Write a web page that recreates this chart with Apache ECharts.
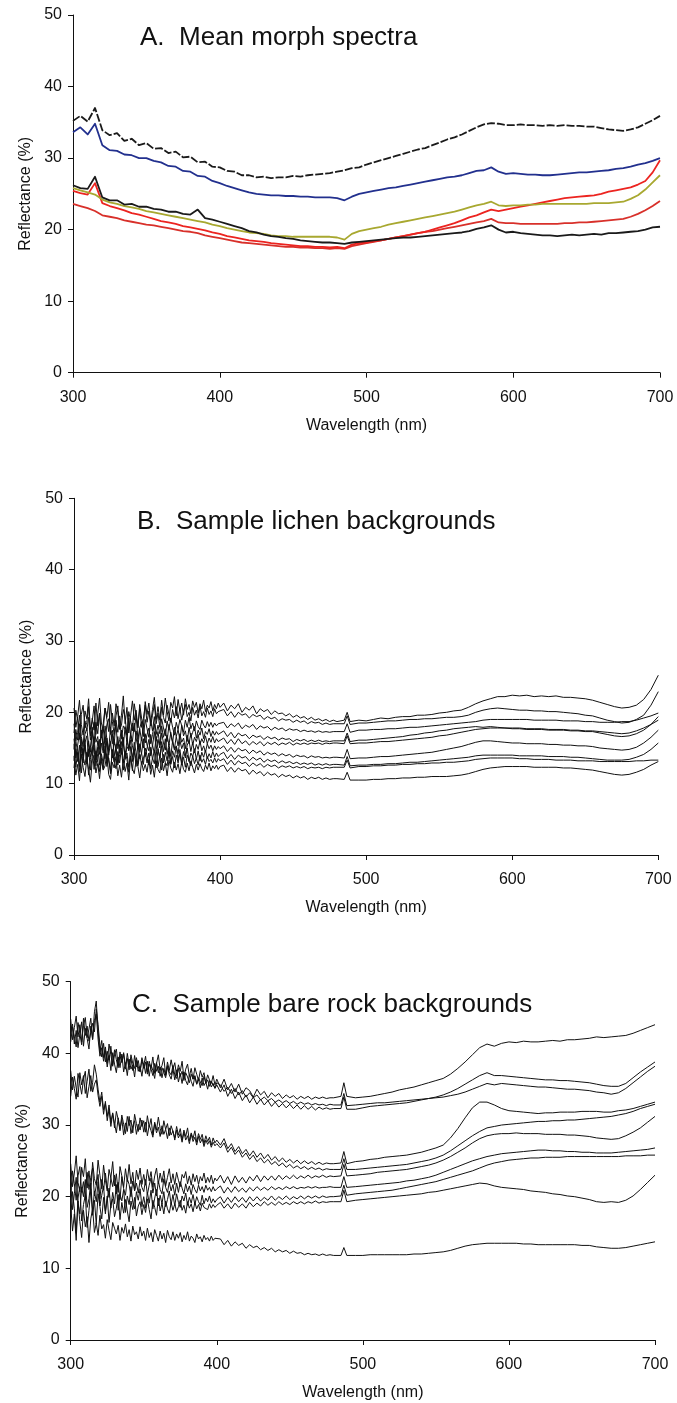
<!DOCTYPE html>
<html>
<head>
<meta charset="utf-8">
<script src="https://cdn.jsdelivr.net/npm/echarts@6/dist/echarts.min.js"></script>
<style>
  html, body { margin: 0; padding: 0; background: #ffffff; }
  #chart { width: 677px; height: 1403px; }
</style>
</head>
<body>
<div id="chart"></div>
<script>
// ---------- Panel A: mean morph spectra (5 nm steps) ----------
const wavelengthsA = [300,305,310,315,320,325,330,335,340,345,350,355,360,365,370,375,380,385,390,395,400,
  405,410,415,420,425,430,435,440,445,450,455,460,465,470,475,480,485,490,495,500,
  505,510,515,520,525,530,535,540,545,550,555,560,565,570,575,580,585,590,595,600,
  605,610,615,620,625,630,635,640,645,650,655,660,665,670,675,680,685,690,695,700];

const morphBlackUpper = [35.2,35.9,35.1,37.0,33.9,33.2,33.5,32.4,32.7,31.8,32.1,31.3,31.4,30.7,30.9,30.1,30.2,29.4,29.5,28.8,28.7,
  28.2,28.1,27.6,27.6,27.3,27.4,27.2,27.3,27.3,27.5,27.4,27.6,27.7,27.8,27.9,28.1,28.3,28.6,28.7,29.1,
  29.4,29.7,30.0,30.3,30.6,30.9,31.2,31.4,31.8,32.2,32.6,32.9,33.3,33.8,34.3,34.7,34.9,34.8,34.6,34.6,
  34.7,34.6,34.6,34.5,34.6,34.5,34.6,34.5,34.5,34.4,34.4,34.2,34.0,33.9,33.8,34.0,34.3,34.8,35.3,35.9];
const morphBlue = [33.6,34.3,33.3,34.8,31.8,31.1,31.0,30.5,30.4,30.0,30.0,29.6,29.4,28.9,28.8,28.2,28.1,27.5,27.4,26.8,26.5,
  26.1,25.8,25.5,25.2,25.0,24.9,24.8,24.8,24.7,24.7,24.6,24.6,24.5,24.5,24.5,24.4,24.1,24.6,25.0,25.2,
  25.4,25.6,25.8,25.9,26.1,26.3,26.5,26.7,26.9,27.1,27.3,27.4,27.6,27.9,28.2,28.3,28.7,28.1,27.8,27.9,
  27.8,27.7,27.7,27.6,27.6,27.7,27.8,27.9,28.0,28.0,28.1,28.2,28.3,28.5,28.6,28.8,29.1,29.3,29.6,30.0];
const morphBlackLower = [26.2,25.8,25.7,27.4,24.5,24.1,24.1,23.5,23.6,23.2,23.2,22.9,22.8,22.5,22.5,22.2,22.1,22.8,21.6,21.4,21.1,
  20.8,20.5,20.2,19.8,19.6,19.3,19.1,19.0,18.8,18.7,18.5,18.4,18.3,18.2,18.2,18.1,18.0,18.2,18.3,18.4,
  18.5,18.6,18.7,18.8,18.9,18.9,19.0,19.1,19.2,19.3,19.4,19.5,19.6,19.8,20.1,20.3,20.6,20.0,19.6,19.7,
  19.5,19.4,19.3,19.2,19.2,19.1,19.2,19.3,19.2,19.3,19.4,19.3,19.5,19.5,19.6,19.7,19.8,20.0,20.3,20.4];
const morphOlive = [25.8,25.5,25.2,24.9,24.2,23.8,23.6,23.3,23.1,22.9,22.6,22.4,22.2,22.0,21.8,21.6,21.4,21.2,21.0,20.7,20.5,
  20.2,20.0,19.8,19.6,19.5,19.4,19.2,19.1,19.1,19.0,19.0,19.0,19.0,19.0,19.0,18.9,18.6,19.4,19.8,20.0,
  20.2,20.4,20.7,20.9,21.1,21.3,21.5,21.7,21.9,22.1,22.3,22.5,22.8,23.1,23.4,23.6,23.9,23.4,23.3,23.4,
  23.4,23.5,23.5,23.6,23.6,23.6,23.6,23.6,23.6,23.6,23.7,23.7,23.7,23.8,23.9,24.3,24.8,25.6,26.6,27.6];
const morphRedUpper = [25.4,25.1,24.9,26.5,23.7,23.3,23.0,22.7,22.3,22.1,21.8,21.5,21.2,21.0,20.8,20.5,20.3,20.1,19.9,19.6,19.4,
  19.1,18.9,18.7,18.5,18.4,18.3,18.1,18.0,17.9,17.8,17.7,17.7,17.6,17.6,17.5,17.6,17.4,17.9,18.1,18.2,
  18.4,18.5,18.7,18.9,19.1,19.3,19.5,19.7,20.0,20.3,20.6,20.9,21.3,21.7,22.0,22.4,22.8,22.6,22.8,23.0,
  23.2,23.4,23.6,23.8,24.0,24.2,24.4,24.5,24.6,24.7,24.8,25.0,25.3,25.5,25.7,25.9,26.3,26.8,28.0,29.7];
const morphRedLower = [23.6,23.3,23.0,22.6,22.0,21.8,21.6,21.3,21.1,20.9,20.7,20.6,20.4,20.2,20.0,19.8,19.7,19.5,19.2,19.0,18.8,
  18.6,18.4,18.2,18.1,18.0,17.9,17.8,17.7,17.6,17.6,17.5,17.5,17.4,17.4,17.3,17.4,17.3,17.7,17.9,18.1,
  18.3,18.5,18.7,18.9,19.1,19.3,19.5,19.7,19.8,20.0,20.2,20.4,20.6,20.8,21.0,21.2,21.5,21.0,20.9,20.9,
  20.8,20.8,20.8,20.8,20.8,20.8,20.9,20.9,21.0,21.0,21.1,21.2,21.3,21.4,21.5,21.8,22.2,22.7,23.3,24.0];

// ---------- Panels B and C: background samples (finer steps across the noisy UV range) ----------
const wavelengthsBC = [300,301.25,302.5,303.75,305,306.25,307.5,308.75,310,311.25,312.5,313.75,315,316.25,317.5,318.75,
  320,321.25,322.5,323.75,325,326.25,327.5,328.75,330,331.25,332.5,333.75,335,336.25,337.5,338.75,
  340,341.25,342.5,343.75,345,346.25,347.5,348.75,350,
  351.25,352.5,353.75,355,356.25,357.5,358.75,360,361.25,362.5,363.75,365,366.25,367.5,368.75,370,
  371.25,372.5,373.75,375,376.25,377.5,378.75,380,381.25,382.5,383.75,385,386.25,387.5,388.75,390,
  391.25,392.5,393.75,395,396.25,397.5,398.75,400,
  402.5,405,407.5,410,412.5,415,417.5,420,422.5,425,427.5,430,432.5,435,437.5,440,
  442.5,445,447.5,450,452.5,455,457.5,460,462.5,465,467.5,470,472.5,475,477.5,480,
  485,487,489,
  495,500,505,510,515,520,525,530,535,540,545,550,555,560,565,570,575,580,585,590,595,600,
  605,610,615,620,625,630,635,640,645,650,655,660,665,670,675,680,685,690,695,700];

// Lichen backgrounds
const lichenA = [20.6,17.9,19.4,21.7,18.3,16.8,20.2,19.1,21.9,17.6,18.8,20.9,16.9,19.8,22.0,18.5,17.4,20.6,19.3,21.4,17.2,19.9,18.1,21.2,20.0,17.7,19.6,22.3,18.4,20.7,17.1,19.5,21.6,18.9,20.3,17.8,21.1,19.2,18.0,21.5,19.7,
  21.3,18.6,20.4,22.1,19.0,20.8,18.9,21.7,19.6,22.0,20.1,18.8,21.4,20.6,22.2,19.5,
  21.8,20.2,21.3,19.6,21.9,20.4,21.1,19.8,21.6,20.7,21.4,19.9,21.2,20.5,21.7,20.1,21.0,20.6,21.5,20.2,21.1,20.5,21.3,20.7,
  21.3,20.2,21.0,20.5,21.2,20.0,20.7,20.3,20.9,19.8,20.5,20.1,20.4,19.7,20.2,19.8,19.9,19.5,19.8,19.3,19.6,19.2,19.4,19.0,19.3,18.9,19.1,18.8,19.0,18.7,18.9,18.7,
  18.9,20.0,18.7,
  18.9,18.8,19.0,19.2,19.1,19.3,19.4,19.4,19.6,19.6,19.7,19.9,20.0,20.2,20.3,20.7,21.2,21.6,21.9,22.2,22.2,22.4,22.3,22.4,22.2,22.3,22.2,22.3,22.1,22.1,22.0,21.9,21.7,21.4,21.1,20.8,20.6,20.7,21.0,21.8,23.2,25.2];
const lichenB = [17.1,20.3,18.9,16.2,19.7,21.0,17.8,18.6,20.8,16.7,19.2,17.5,21.3,18.1,19.9,16.5,18.4,20.6,19.0,17.3,21.1,18.7,16.9,19.5,20.9,17.6,18.2,20.4,19.3,16.8,20.1,18.8,17.4,21.2,19.6,18.0,20.5,17.9,19.1,21.0,18.6,
  20.2,18.1,19.6,21.1,18.4,19.9,17.9,20.7,19.3,18.5,21.0,19.7,18.6,20.4,19.2,20.8,
  19.1,20.6,18.9,20.2,21.1,19.4,20.0,18.8,20.7,19.6,20.3,19.2,20.9,19.5,20.1,19.3,20.6,19.7,20.2,19.4,20.5,19.8,20.1,19.9,
  20.4,19.5,20.1,19.3,20.0,19.6,19.8,19.2,19.7,19.4,19.6,19.0,19.4,19.1,19.3,18.8,19.1,18.9,19.0,18.6,18.9,18.6,18.8,18.4,18.7,18.5,18.6,18.3,18.5,18.3,18.4,18.4,
  18.4,19.5,18.3,
  18.5,18.5,18.6,18.7,18.8,18.8,18.9,19.0,19.0,19.1,19.1,19.2,19.3,19.3,19.4,19.6,20.0,20.3,20.5,20.6,20.5,20.4,20.3,20.3,20.2,20.2,20.1,20.1,20.0,19.9,19.8,19.6,19.5,19.2,18.9,18.7,18.5,18.6,19.0,19.6,21.0,22.9];
const lichenC = [18.4,15.9,17.2,19.6,16.6,15.2,18.8,17.4,19.3,16.1,17.9,15.5,18.6,17.0,19.9,16.4,17.7,15.8,18.3,19.1,16.9,17.5,15.4,18.9,17.2,19.5,16.3,18.1,17.6,15.9,19.2,16.8,18.5,17.3,19.7,16.2,17.8,18.7,16.6,19.0,17.7,
  16.5,18.9,17.4,19.4,16.9,18.2,17.0,19.1,17.8,16.7,18.8,17.5,19.2,17.9,16.8,18.6,
  17.6,19.0,18.1,17.2,18.9,17.9,19.3,17.7,18.5,17.4,18.8,18.0,17.6,18.9,18.2,17.8,18.7,18.0,18.6,17.9,18.5,18.1,18.4,18.2,
  18.6,17.8,18.4,18.0,18.5,17.7,18.2,17.9,18.3,17.6,18.1,17.8,18.0,17.5,17.9,17.6,17.8,17.4,17.7,17.5,17.6,17.3,17.5,17.3,17.4,17.2,17.4,17.2,17.3,17.2,17.3,17.3,
  17.3,18.4,17.2,
  17.5,17.5,17.6,17.6,17.7,17.7,17.8,17.9,17.9,18.0,18.1,18.2,18.3,18.4,18.5,18.6,18.7,18.9,19.0,19.0,19.0,19.0,19.0,19.0,18.9,18.9,18.9,18.9,18.8,18.8,18.8,18.7,18.7,18.6,18.6,18.6,18.7,18.7,18.9,19.2,19.5,19.9];
const lichenD = [14.8,17.6,16.1,18.4,15.2,13.9,16.9,17.8,15.5,14.4,17.2,18.6,15.8,16.6,14.1,17.4,15.0,18.1,16.3,14.7,17.9,15.6,16.8,18.3,14.9,16.2,17.5,15.3,18.0,16.7,14.6,17.1,15.9,18.5,16.4,15.1,17.7,16.0,18.2,15.7,16.9,
  17.8,15.6,16.9,18.4,16.0,17.3,15.4,18.1,16.5,17.7,15.9,18.3,16.8,15.7,17.9,16.6,
  17.6,16.1,18.2,16.7,17.4,15.9,17.9,16.5,17.2,18.0,16.4,17.5,16.8,17.8,16.3,17.3,16.9,17.7,16.6,17.4,16.8,17.3,16.9,17.1,
  17.4,16.6,17.2,16.4,17.1,16.7,16.9,16.3,16.8,16.5,16.7,16.2,16.6,16.3,16.5,16.1,16.4,16.2,16.3,15.9,16.2,16.0,16.2,15.9,16.1,15.9,16.1,15.9,16.0,15.9,16.0,16.0,
  16.0,17.1,15.9,
  16.1,16.1,16.2,16.3,16.4,16.5,16.6,16.8,16.9,17.1,17.2,17.4,17.5,17.7,17.8,17.9,18.0,17.9,18.0,17.9,17.8,17.7,17.7,17.6,17.6,17.6,17.5,17.5,17.5,17.4,17.4,17.3,17.3,17.1,16.9,16.7,16.6,16.7,17.0,17.5,18.3,19.4];
const lichenE = [16.3,13.6,15.4,17.1,14.2,12.9,15.8,16.7,13.8,15.1,17.3,14.5,13.3,16.0,14.8,17.5,15.2,13.5,16.4,14.0,15.7,17.0,13.9,15.0,16.6,14.3,17.2,15.5,13.7,16.1,14.9,16.8,15.3,14.1,17.4,15.6,14.4,16.5,15.0,17.0,15.4,
  14.6,16.9,15.2,17.3,14.8,16.2,15.0,17.1,15.7,14.7,16.8,15.4,17.2,15.9,14.9,16.6,
  15.3,17.0,15.8,16.4,14.9,16.8,15.6,17.1,15.4,16.5,15.9,16.9,15.5,16.3,15.7,16.7,15.6,16.4,15.8,16.6,15.7,16.3,15.9,16.1,
  16.4,15.6,16.2,15.5,16.3,15.6,16.0,15.4,15.9,15.5,15.9,15.3,15.8,15.5,15.8,15.4,15.7,15.5,15.8,15.4,15.7,15.5,15.7,15.5,15.7,15.6,15.7,15.5,15.7,15.6,15.7,15.7,
  15.6,16.7,15.6,
  15.7,15.7,15.8,15.9,15.9,16.0,16.1,16.2,16.3,16.4,16.5,16.7,16.8,17.0,17.2,17.4,17.6,17.7,17.8,17.8,17.8,17.8,17.8,17.7,17.7,17.7,17.6,17.6,17.6,17.5,17.5,17.4,17.4,17.3,17.2,17.1,17.0,17.1,17.4,17.8,18.3,18.9];
const lichenF = [13.2,15.9,14.6,12.4,16.3,14.0,15.4,12.8,16.0,13.7,14.9,16.6,13.3,15.1,12.6,15.7,14.3,16.4,13.0,14.8,15.9,13.6,16.2,14.5,12.9,15.5,14.1,16.5,13.4,15.2,14.7,16.1,13.1,15.8,14.4,12.7,15.6,14.2,16.3,13.8,15.0,
  16.2,13.9,15.4,14.3,16.6,14.8,13.6,15.9,14.5,16.3,14.1,15.6,13.8,16.0,14.7,15.3,
  14.2,16.1,14.9,15.7,13.9,15.4,16.0,14.5,15.8,14.3,15.5,14.8,16.0,14.6,15.3,14.4,15.6,14.9,15.4,14.6,15.3,14.8,15.2,14.9,
  15.3,14.5,15.1,14.4,15.0,14.6,14.8,14.2,14.7,14.3,14.6,14.0,14.4,14.1,14.3,13.9,14.2,13.9,14.1,13.7,14.0,13.8,13.9,13.6,13.9,13.7,13.8,13.6,13.7,13.6,13.7,13.7,
  13.6,14.8,13.5,
  13.6,13.6,13.7,13.8,13.8,13.9,14.0,14.1,14.2,14.3,14.4,14.6,14.8,15.0,15.2,15.5,15.8,16.0,16.0,15.9,15.8,15.7,15.7,15.6,15.6,15.6,15.5,15.5,15.4,15.4,15.3,15.3,15.2,15.0,14.9,14.8,14.7,14.8,15.1,15.7,16.5,17.5];
const lichenG = [15.6,12.3,14.4,11.7,15.1,13.6,16.0,12.8,14.9,11.9,13.8,15.4,12.5,14.2,16.2,13.1,12.0,14.7,15.8,13.3,11.8,14.5,13.0,15.5,12.6,14.1,15.9,12.9,14.6,13.4,11.6,15.2,13.7,14.8,12.4,15.7,13.5,14.3,12.7,15.0,13.9,
  12.6,15.1,13.4,14.7,12.2,14.9,13.6,15.3,12.9,14.4,13.2,15.0,12.8,14.6,13.7,15.2,
  13.3,14.8,12.9,14.5,13.6,15.0,13.1,14.3,13.8,14.9,13.4,14.6,13.2,14.4,13.7,14.7,13.5,14.2,13.6,14.5,13.7,14.3,13.8,14.1,
  14.4,13.5,14.1,13.4,14.0,13.6,13.8,13.2,13.7,13.3,13.6,13.0,13.4,13.1,13.3,12.9,13.2,12.9,13.1,12.8,13.0,12.7,12.9,12.7,12.9,12.6,12.8,12.6,12.8,12.6,12.7,12.7,
  12.6,13.8,12.5,
  12.6,12.6,12.7,12.7,12.8,12.8,12.9,13.0,13.0,13.1,13.2,13.3,13.4,13.5,13.6,13.7,13.9,14.0,14.0,14.0,14.0,14.0,13.9,13.9,13.9,13.9,13.8,13.8,13.8,13.7,13.7,13.6,13.5,13.4,13.3,13.3,13.3,13.4,13.7,14.1,14.8,15.7];
const lichenH = [12.2,14.9,13.1,15.4,11.5,13.8,12.6,14.4,11.2,13.4,15.1,12.0,14.6,13.0,11.7,14.2,12.8,15.3,12.4,13.6,11.4,14.8,13.2,12.1,14.5,12.9,15.0,11.9,13.7,14.3,12.3,13.9,11.8,14.7,13.3,12.5,14.1,12.7,13.5,14.4,12.9,
  14.3,12.1,13.6,12.8,14.8,12.4,13.9,11.9,14.1,13.0,12.5,14.5,12.7,13.8,12.2,14.0,
  12.9,14.2,12.6,13.7,12.3,14.0,13.2,12.5,13.9,12.8,13.6,12.6,14.0,13.0,13.5,12.7,13.8,13.1,13.4,12.9,13.6,13.0,13.5,13.2,
  13.5,12.7,13.3,12.6,13.2,12.8,13.0,12.4,12.9,12.5,12.8,12.3,12.7,12.4,12.6,12.2,12.5,12.3,12.5,12.2,12.4,12.2,12.4,12.1,12.3,12.2,12.3,12.1,12.3,12.2,12.3,12.3,
  12.3,13.3,12.2,
  12.4,12.4,12.5,12.5,12.6,12.6,12.7,12.7,12.8,12.8,12.9,12.9,13.0,13.0,13.1,13.2,13.4,13.5,13.6,13.6,13.6,13.6,13.5,13.5,13.4,13.4,13.4,13.3,13.3,13.3,13.2,13.2,13.2,13.1,13.1,13.1,13.1,13.1,13.2,13.2,13.3,13.3];
const lichenI = [13.9,11.2,12.7,10.4,14.1,12.3,11.0,13.5,12.0,10.2,13.2,14.0,11.5,12.8,10.7,13.6,11.9,12.5,14.2,11.3,10.6,13.0,12.2,13.8,11.1,12.6,10.9,13.4,11.7,12.9,10.5,13.7,12.1,11.4,13.3,12.4,10.8,13.1,11.8,12.7,11.6,
  13.4,11.3,12.6,10.9,13.2,12.0,11.5,13.6,11.8,12.9,11.1,13.3,12.2,11.6,13.0,11.9,
  12.8,11.4,13.1,12.0,11.6,12.9,11.8,13.2,12.3,11.5,12.7,11.9,12.8,12.1,11.7,12.6,12.0,12.9,11.8,12.5,12.1,12.6,12.0,12.4,
  12.6,11.7,12.3,11.6,12.2,11.8,12.0,11.3,11.9,11.4,11.7,11.1,11.6,11.2,11.4,10.9,11.3,11.0,11.2,10.8,11.1,10.8,11.0,10.6,10.9,10.7,10.9,10.6,10.8,10.6,10.7,10.7,
  10.6,11.6,10.5,
  10.5,10.5,10.6,10.6,10.7,10.7,10.8,10.8,10.9,10.9,11.0,11.0,11.0,11.1,11.2,11.4,11.7,12.0,12.2,12.3,12.4,12.4,12.4,12.4,12.3,12.3,12.3,12.3,12.2,12.2,12.1,12.0,11.9,11.7,11.5,11.3,11.2,11.3,11.6,12.0,12.6,13.1];

// Bare rock backgrounds
const rockA = [44.8,41.9,43.6,45.2,42.3,44.0,41.6,43.9,45.0,42.2,43.4,44.9,42.0,45.8,47.3,43.1,40.2,41.8,39.4,40.9,38.6,41.3,39.8,38.2,40.5,39.1,38.0,40.2,38.7,39.9,37.8,40.0,38.4,39.3,37.6,39.7,38.1,39.0,37.5,39.4,38.3,
  39.6,37.4,38.9,37.9,39.5,37.2,38.6,39.8,37.7,38.3,39.4,37.0,38.8,37.6,39.1,37.8,
  38.7,36.9,38.4,37.5,38.9,36.6,37.8,38.5,36.8,37.9,36.4,38.0,37.1,36.2,37.6,36.7,37.3,35.9,37.0,36.3,35.8,36.9,35.6,36.4,
  35.2,36.4,34.9,35.8,34.6,35.7,34.3,35.2,34.8,33.9,35.0,34.2,34.7,33.8,34.5,34.0,34.4,33.7,34.2,33.8,34.1,33.6,34.0,33.7,34.0,33.6,33.9,33.7,33.9,33.7,33.8,33.8,
  34.0,35.9,34.0,
  33.8,33.9,34.0,34.2,34.4,34.6,34.9,35.1,35.3,35.6,35.9,36.2,36.5,37.1,37.9,38.8,39.8,40.8,41.3,41.0,41.4,41.6,41.5,41.7,41.6,41.6,41.7,41.8,41.7,41.9,41.9,42.0,42.1,42.3,42.2,42.3,42.4,42.5,42.8,43.2,43.6,44.0];
const rockB = [42.9,44.1,41.3,43.2,40.8,42.7,44.4,41.0,43.5,42.1,40.6,43.8,41.9,44.6,45.5,42.0,39.6,40.8,38.9,40.4,38.1,39.7,37.6,40.1,38.5,37.3,39.5,38.0,39.9,37.4,38.7,36.9,39.2,37.8,38.4,36.7,39.0,37.5,38.2,36.8,38.6,
  37.2,38.9,36.8,38.4,37.6,36.5,38.7,37.3,38.1,36.6,37.9,36.9,38.3,37.0,36.4,37.8,
  36.3,37.7,36.0,37.2,35.8,37.4,36.2,35.6,37.0,36.1,35.4,36.8,35.7,36.4,35.2,36.6,35.5,36.0,35.0,36.2,35.3,35.8,35.1,35.6,
  34.6,35.6,34.0,35.0,33.7,34.6,33.4,34.2,33.1,33.9,32.9,33.6,32.8,33.4,32.6,33.2,32.5,33.0,32.4,32.9,32.3,32.8,32.2,32.7,32.2,32.6,32.1,32.5,32.2,32.4,32.2,32.3,
  32.3,33.9,32.2,
  32.2,32.4,32.6,32.7,32.8,32.9,33.0,33.1,33.3,33.5,33.7,33.9,34.2,34.6,35.1,35.7,36.3,36.9,37.3,36.9,36.9,36.8,36.7,36.6,36.5,36.4,36.3,36.3,36.2,36.2,36.1,36.0,35.9,35.7,35.5,35.4,35.4,35.8,36.6,37.4,38.1,38.8];
const rockC = [41.6,43.7,42.4,40.9,44.3,42.8,41.2,44.9,42.5,43.8,41.7,42.9,44.2,43.0,46.2,44.0,41.1,39.5,41.4,38.8,40.3,39.1,41.0,38.4,39.8,40.6,38.3,39.6,38.9,40.1,38.2,39.3,37.7,39.8,38.6,37.9,39.4,38.1,37.4,39.1,37.9,
  38.8,37.1,38.5,37.8,36.9,38.6,37.5,38.2,36.8,38.0,37.3,36.6,38.1,37.4,37.0,38.3,
  37.0,36.5,37.9,36.8,37.5,36.2,37.3,36.7,35.9,37.1,36.4,36.9,35.7,36.6,36.0,35.5,36.8,35.8,36.3,35.4,36.1,35.6,35.2,35.9,
  35.6,34.7,35.3,34.4,35.1,34.2,34.8,33.9,34.5,33.8,34.2,33.5,33.9,33.4,33.7,33.2,33.5,33.1,33.4,33.0,33.3,32.9,33.2,32.9,33.1,32.8,33.0,32.8,32.9,32.7,32.9,32.8,
  32.8,34.4,32.7,
  32.8,32.9,33.0,33.1,33.1,33.2,33.3,33.4,33.5,33.6,33.7,33.8,33.9,34.1,34.3,34.6,35.0,35.4,35.8,35.6,35.8,35.7,35.6,35.5,35.4,35.3,35.3,35.2,35.1,35.0,35.0,34.9,34.8,34.6,34.5,34.3,34.5,35.1,35.9,36.7,37.5,38.2];
const rockD = [37.6,34.9,36.8,35.2,33.9,37.3,35.6,36.9,34.4,36.1,37.8,34.7,35.9,38.4,37.1,35.0,33.2,34.6,32.1,33.0,31.2,32.8,30.4,31.7,29.6,31.9,30.8,29.2,31.4,30.1,28.8,31.2,29.9,30.7,28.9,31.5,30.2,29.1,31.0,29.8,30.6,
  29.0,31.3,29.7,30.9,28.6,30.4,29.3,31.1,29.5,28.7,30.6,29.4,30.2,28.5,29.9,29.1,
  28.2,29.8,28.6,29.5,27.9,29.3,28.4,29.6,27.8,28.9,28.1,29.2,27.6,28.8,28.0,28.7,27.4,28.5,27.7,28.3,27.2,28.2,27.5,27.9,
  27.2,28.1,26.7,27.4,26.3,27.0,26.0,26.6,25.7,26.4,25.5,26.1,25.3,25.9,25.1,25.6,24.9,25.4,24.8,25.2,24.7,25.1,24.6,25.0,24.6,24.9,24.5,24.8,24.5,24.7,24.6,24.6,
  24.7,26.3,24.6,
  24.9,25.0,25.2,25.3,25.5,25.6,25.7,25.8,26.0,26.2,26.5,26.8,27.2,28.2,29.5,31.0,32.4,33.2,33.2,32.8,32.3,32.0,31.9,31.8,31.7,31.6,31.7,31.7,31.8,31.8,31.8,31.9,31.9,31.9,31.8,31.8,32.0,32.1,32.3,32.6,32.9,33.2];
const rockE = [34.0,36.7,35.1,33.6,37.2,35.8,34.3,36.4,37.5,33.8,35.4,36.9,34.6,35.7,36.3,34.1,32.6,34.0,31.5,33.3,30.6,32.2,29.8,31.6,30.2,28.9,31.0,29.4,30.8,28.6,30.3,29.1,31.2,28.8,29.9,30.6,28.7,30.1,29.3,30.7,29.0,
  30.4,28.5,30.0,29.2,28.3,30.2,28.9,29.7,28.4,29.9,28.7,29.4,28.1,29.6,28.6,29.2,
  27.9,29.3,28.2,28.8,27.6,29.0,27.9,28.5,27.4,28.7,27.7,28.3,27.2,28.4,27.5,28.1,27.0,27.9,27.3,27.8,26.9,27.6,27.1,27.4,
  26.8,27.5,26.2,26.9,25.9,26.5,25.5,26.1,25.2,25.8,24.9,25.4,24.7,25.2,24.5,24.9,24.3,24.7,24.1,24.5,24.0,24.3,23.9,24.2,23.8,24.1,23.8,24.0,23.7,23.9,23.8,23.8,
  23.8,25.3,23.8,
  23.8,23.9,24.0,24.1,24.2,24.3,24.4,24.5,24.7,24.9,25.1,25.4,25.8,26.4,27.1,27.8,28.5,29.1,29.6,29.8,30.0,30.1,30.2,30.3,30.4,30.5,30.5,30.6,30.6,30.7,30.7,30.8,30.9,31.0,31.1,31.2,31.4,31.6,31.9,32.3,32.6,32.9];
const rockF = [24.6,21.4,23.3,25.7,22.0,20.7,24.1,22.8,25.3,21.2,23.6,20.9,24.8,22.5,21.6,25.1,23.0,21.1,24.4,22.3,20.8,23.8,22.6,24.9,21.5,23.2,20.6,24.2,22.9,21.3,23.9,22.1,24.5,21.8,23.4,20.9,23.7,22.4,24.0,21.7,23.1,
  21.6,23.8,22.2,23.5,21.3,22.9,24.0,21.8,23.3,22.0,23.6,21.5,22.7,23.9,21.9,23.2,
  21.7,23.4,22.3,21.4,23.1,22.6,23.5,21.8,22.9,21.6,23.2,22.1,23.0,21.7,22.8,22.2,23.3,21.9,22.7,22.0,23.0,21.8,22.6,22.2,
  23.0,21.9,22.8,21.7,22.9,22.0,22.7,21.9,22.8,22.2,23.0,22.1,22.9,22.3,22.9,22.3,23.0,22.4,22.9,22.5,23.0,22.5,22.9,22.6,23.0,22.6,22.9,22.7,23.0,22.7,22.9,22.8,
  22.9,24.5,22.9,
  23.0,23.1,23.2,23.4,23.5,23.6,23.7,23.8,24.0,24.2,24.4,24.7,25.1,25.6,26.2,26.8,27.5,28.1,28.5,28.7,28.8,28.8,28.9,28.8,28.8,28.8,28.7,28.7,28.7,28.6,28.6,28.5,28.4,28.2,28.1,28.0,28.1,28.5,29.0,29.6,30.4,31.2];
const rockG = [20.3,23.6,21.8,19.5,22.9,24.2,20.6,22.1,19.8,23.4,21.0,22.7,24.0,20.1,21.5,23.1,19.7,22.4,20.9,23.3,21.2,19.9,22.6,21.4,23.0,20.4,22.0,19.6,22.8,21.1,20.2,22.5,21.7,20.0,22.2,20.8,21.9,20.5,22.3,21.3,20.7,
  22.4,20.3,21.6,22.6,20.5,21.9,20.1,22.2,21.0,20.4,22.5,21.3,20.6,22.0,20.8,21.7,
  20.2,21.9,20.6,22.1,21.2,20.4,21.8,20.7,21.5,20.3,21.7,21.0,20.5,21.6,20.8,21.4,20.6,21.6,20.9,21.3,20.7,21.4,20.8,21.1,
  21.5,20.5,21.3,20.6,21.4,20.7,21.2,20.6,21.3,20.8,21.4,20.9,21.3,20.9,21.4,21.0,21.3,21.0,21.4,21.1,21.4,21.1,21.3,21.2,21.4,21.2,21.4,21.2,21.3,21.3,21.4,21.3,
  21.3,22.8,21.3,
  21.4,21.5,21.6,21.7,21.8,21.9,22.0,22.2,22.3,22.5,22.7,23.0,23.4,23.8,24.2,24.6,25.0,25.3,25.6,25.8,26.0,26.1,26.2,26.3,26.4,26.5,26.5,26.4,26.4,26.3,26.3,26.2,26.2,26.1,26.1,26.1,26.2,26.3,26.4,26.5,26.6,26.8];
const rockH = [21.8,18.2,20.4,22.7,19.1,17.6,21.3,20.0,22.4,18.5,19.7,21.9,17.9,20.8,19.3,22.1,18.7,20.2,21.5,18.0,19.6,21.2,18.4,20.6,19.0,21.7,18.1,20.3,19.4,21.0,17.8,20.1,18.9,21.4,19.2,18.3,20.7,19.5,21.1,18.6,20.0,
  18.4,20.6,19.1,20.9,18.3,19.8,21.0,18.7,20.2,19.0,20.7,18.6,19.6,20.8,18.9,20.3,
  18.7,20.4,19.2,18.5,20.1,19.4,20.5,18.8,19.9,19.1,20.3,18.9,20.0,19.3,18.8,20.2,19.0,19.8,19.3,20.1,19.1,19.7,19.2,19.6,
  20.0,19.1,19.9,19.2,20.0,19.3,19.9,19.2,20.0,19.4,20.0,19.4,19.9,19.5,20.1,19.5,20.0,19.6,20.1,19.6,20.0,19.7,20.1,19.7,20.1,19.8,20.1,19.8,20.1,19.9,20.0,20.0,
  20.1,21.6,20.2,
  20.4,20.5,20.6,20.7,20.8,20.9,21.1,21.3,21.5,21.7,21.9,22.1,22.4,22.7,23.0,23.3,23.6,24.0,24.4,24.7,24.9,25.1,25.2,25.3,25.4,25.4,25.5,25.5,25.5,25.6,25.6,25.6,25.6,25.6,25.6,25.6,25.6,25.7,25.7,25.7,25.8,25.8];
const rockI = [17.0,20.7,18.3,14.9,19.8,21.4,16.6,18.9,20.2,15.7,18.1,21.0,17.4,19.5,16.2,20.4,18.6,16.9,19.9,17.6,20.1,16.4,18.8,19.7,17.2,18.4,20.3,16.8,19.2,17.7,19.6,18.0,16.5,19.4,18.2,19.9,17.3,18.7,19.3,17.5,18.9,
  17.8,19.7,18.2,16.9,19.5,18.5,17.4,19.8,18.0,19.1,17.6,19.4,18.3,17.7,19.2,18.1,
  19.0,17.9,18.6,19.5,18.1,18.8,17.7,19.3,18.4,19.0,17.9,19.2,18.3,18.9,18.0,19.1,18.5,18.7,18.2,19.0,18.4,18.9,18.5,18.8,
  19.2,18.4,19.0,18.3,19.1,18.5,19.0,18.4,19.2,18.6,19.1,18.7,19.3,18.8,19.2,18.8,19.3,18.9,19.2,18.9,19.3,19.0,19.3,19.0,19.3,19.1,19.4,19.1,19.3,19.2,19.3,19.3,
  19.3,20.9,19.3,
  19.5,19.6,19.7,19.8,19.9,20.0,20.1,20.2,20.3,20.4,20.6,20.7,20.9,21.1,21.3,21.5,21.7,21.9,21.8,21.5,21.3,21.2,21.1,21.0,20.8,20.7,20.6,20.4,20.3,20.1,20.0,19.8,19.6,19.3,19.2,19.3,19.2,19.5,20.1,21.0,22.0,23.0];
const rockJ = [18.9,15.2,17.6,13.9,19.4,16.5,14.3,18.1,15.8,17.2,13.6,16.9,18.4,15.0,16.3,14.6,17.4,15.5,16.1,14.2,16.8,15.3,14.0,16.4,15.6,14.8,16.0,13.9,15.7,14.9,16.2,14.4,15.4,13.8,15.9,14.7,15.1,14.1,15.8,14.5,15.2,
  13.9,15.6,14.3,15.0,13.7,15.4,14.6,13.8,15.2,14.1,14.9,13.6,15.3,14.4,14.0,15.1,
  13.9,14.8,14.2,15.0,13.7,14.6,14.0,15.1,13.8,14.5,14.2,13.6,14.8,14.1,14.4,13.7,14.6,14.0,14.3,13.8,14.5,13.9,14.2,14.0,
  14.1,13.3,13.9,13.1,13.7,13.2,13.5,12.8,13.3,12.9,13.1,12.6,12.9,12.5,12.8,12.3,12.6,12.3,12.5,12.1,12.4,12.1,12.2,11.9,12.1,11.9,12.0,11.8,12.0,11.8,11.9,11.8,
  11.8,12.9,11.8,
  11.8,11.8,11.9,11.9,11.9,11.9,11.9,11.9,12.0,12.0,12.1,12.2,12.3,12.5,12.8,13.1,13.3,13.4,13.5,13.5,13.5,13.5,13.5,13.4,13.4,13.3,13.3,13.3,13.3,13.3,13.3,13.2,13.2,13.0,12.9,12.8,12.8,12.9,13.1,13.3,13.5,13.7];

// Axis / panel labels
const panelTitles = ['A.  Mean morph spectra', 'B.  Sample lichen backgrounds', 'C.  Sample bare rock backgrounds'];
const xTitle = 'Wavelength (nm)';
const yTitle = 'Reflectance (%)';

// ---------- Chart construction ----------
const FONT = '"Liberation Sans", Arial, Helvetica, sans-serif';
const INK = '#111111';

const grids = [
  { left: 73,   top: 15,    width: 587,   height: 357.7 },
  { left: 74,   top: 498.3, width: 584.3, height: 356.7 },
  { left: 70.7, top: 981.7, width: 584.3, height: 358.3 }
];
const titleAnchors = [[140, 38], [137, 522], [132, 1005]];

function pairs(xs, ys) { return xs.map((x, i) => [x, ys[i]]); }

function lineSeries(panel, xs, ys, color, width, dash) {
  return {
    type: 'line',
    xAxisIndex: panel,
    yAxisIndex: panel,
    data: pairs(xs, ys),
    showSymbol: false,
    symbol: 'none',
    silent: true,
    animation: false,
    lineStyle: { color: color, width: width, type: dash || 'solid', join: 'round' }
  };
}

const xAxes = grids.map((g, i) => ({
  gridIndex: i, type: 'value', min: 300, max: 700, interval: 100,
  name: xTitle, nameLocation: 'middle', nameGap: 45,
  nameTextStyle: { fontFamily: FONT, fontSize: 16, color: INK },
  axisLine: { show: true, onZero: false, lineStyle: { color: INK, width: 1 } },
  axisTick: { show: true, inside: false, length: 5, lineStyle: { color: INK, width: 1 } },
  axisLabel: { show: true, fontFamily: FONT, fontSize: 16, color: INK, margin: 17, showMinLabel: true, showMaxLabel: true },
  splitLine: { show: false }
}));

const yAxes = grids.map((g, i) => ({
  gridIndex: i, type: 'value', min: 0, max: 50, interval: 10,
  name: yTitle, nameLocation: 'middle', nameGap: 38, nameRotate: 90,
  nameTextStyle: { fontFamily: FONT, fontSize: 16, color: INK },
  axisLine: { show: true, onZero: false, lineStyle: { color: INK, width: 1 } },
  axisTick: { show: true, inside: false, length: 5, lineStyle: { color: INK, width: 1 } },
  axisLabel: { show: true, fontFamily: FONT, fontSize: 16, color: INK, margin: 11, showMinLabel: true, showMaxLabel: true },
  splitLine: { show: false }
}));

const series = [
  // Panel A (coloured morph means)
  lineSeries(0, wavelengthsA, morphRedLower, '#d8302a', 1.8),
  lineSeries(0, wavelengthsA, morphRedUpper, '#ec2420', 1.8),
  lineSeries(0, wavelengthsA, morphOlive, '#a8a830', 1.8),
  lineSeries(0, wavelengthsA, morphBlackLower, '#1a1a1a', 1.8),
  lineSeries(0, wavelengthsA, morphBlue, '#22308e', 1.8),
  lineSeries(0, wavelengthsA, morphBlackUpper, '#1a1a1a', 1.8, [8, 2])
];
[lichenA, lichenB, lichenC, lichenD, lichenE, lichenF, lichenG, lichenH, lichenI].forEach(ys => {
  series.push(lineSeries(1, wavelengthsBC, ys, INK, 1));
});
[rockA, rockB, rockC, rockD, rockE, rockF, rockG, rockH, rockI, rockJ].forEach(ys => {
  series.push(lineSeries(2, wavelengthsBC, ys, INK, 1));
});

const graphic = panelTitles.map((t, i) => ({
  type: 'text',
  x: titleAnchors[i][0],
  y: titleAnchors[i][1],
  silent: true,
  style: {
    text: t,
    fill: INK,
    font: '26px ' + FONT,
    textAlign: 'left',
    textVerticalAlign: 'middle',
    verticalAlign: 'middle'
  }
}));

const chart = echarts.init(document.getElementById('chart'), null, { renderer: 'canvas' });
chart.setOption({
  backgroundColor: '#ffffff',
  animation: false,
  grid: grids.map(g => Object.assign({ containLabel: false }, g)),
  xAxis: xAxes,
  yAxis: yAxes,
  series: series,
  graphic: graphic
});
</script>
</body>
</html>
